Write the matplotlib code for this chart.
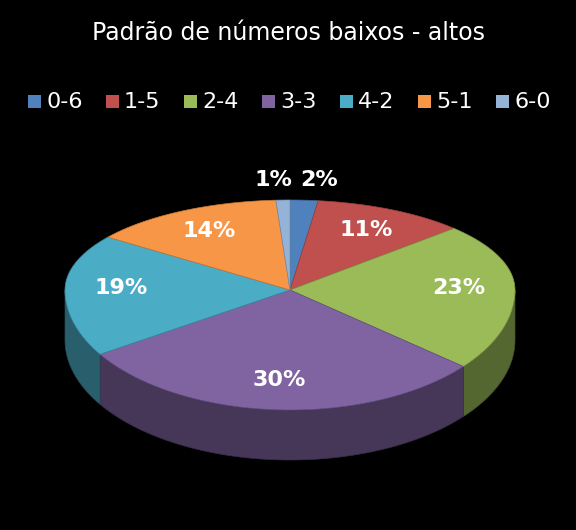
import numpy as np
import matplotlib.pyplot as plt
from matplotlib.patches import Polygon
from matplotlib.colors import to_rgb

categories = ["0-6", "1-5", "2-4", "3-3", "4-2", "5-1", "6-0"]
values = [2, 11, 23, 30, 19, 14, 1]
colors = ["#4F81BD", "#C0504D", "#9BBB59", "#8064A2", "#4BACC6", "#F79646", "#95B3D7"]

cx, cy, rx, ry_back, ry_front, depth = 290, 290, 225, 90, 120, 50


def pt(theta, dy=0.0, r=1.0):
    # theta measured clockwise from 12 o'clock; front half drawn taller (perspective)
    c = np.cos(theta)
    ry = ry_back if c > 0 else ry_front
    return cx + r * rx * np.sin(theta), cy - r * ry * c + dy


def darker(c, f):
    return tuple(v * f for v in to_rgb(c))


fig = plt.figure(figsize=(5.76, 5.30), dpi=100, facecolor="black")
ax = fig.add_axes([0, 0, 1, 1])
ax.set_xlim(0, 576)
ax.set_ylim(530, 0)
ax.axis("off")

fracs = np.array(values) / sum(values)
edges = np.concatenate([[0], np.cumsum(fracs)]) * 2 * np.pi

# side walls (front half only)
for i, c in enumerate(colors):
    a0, a1 = max(edges[i], np.pi / 2), min(edges[i + 1], 3 * np.pi / 2)
    if a1 <= a0:
        continue
    t = np.linspace(a0, a1, 80)
    top = [pt(a) for a in t]
    bot = [pt(a, depth) for a in t[::-1]]
    ax.add_patch(Polygon(top + bot, closed=True, facecolor=darker(c, 0.55),
                         edgecolor=darker(c, 0.45), lw=0.5))

# top faces
for i, c in enumerate(colors):
    t = np.linspace(edges[i], edges[i + 1], 120)
    pts = [(cx, cy)] + [pt(a) for a in t]
    ax.add_patch(Polygon(pts, closed=True, facecolor=c, edgecolor=darker(c, 0.8), lw=0.5))

# labels
for i, v in enumerate(values):
    mid = (edges[i] + edges[i + 1]) / 2
    r = 1.22 if v <= 2 else 0.75
    x, y = pt(mid, r=r)
    if v <= 2:
        x += 12 if i == 0 else -8
    ax.text(x, y, f"{v}%", color="white", fontsize=16, fontweight="bold",
            ha="center", va="center")

ax.text(288, 33, "Padrão de números baixos - altos", color="white", fontsize=17,
        ha="center", va="center")

# legend
x0 = 28
for cat, c in zip(categories, colors):
    ax.add_patch(Polygon([(x0, 95), (x0 + 13, 95), (x0 + 13, 108), (x0, 108)],
                         closed=True, facecolor=c))
    ax.text(x0 + 18, 102, cat, color="white", fontsize=16, ha="left", va="center")
    x0 += 78

fig.savefig("out.png", dpi=100, facecolor="black")
